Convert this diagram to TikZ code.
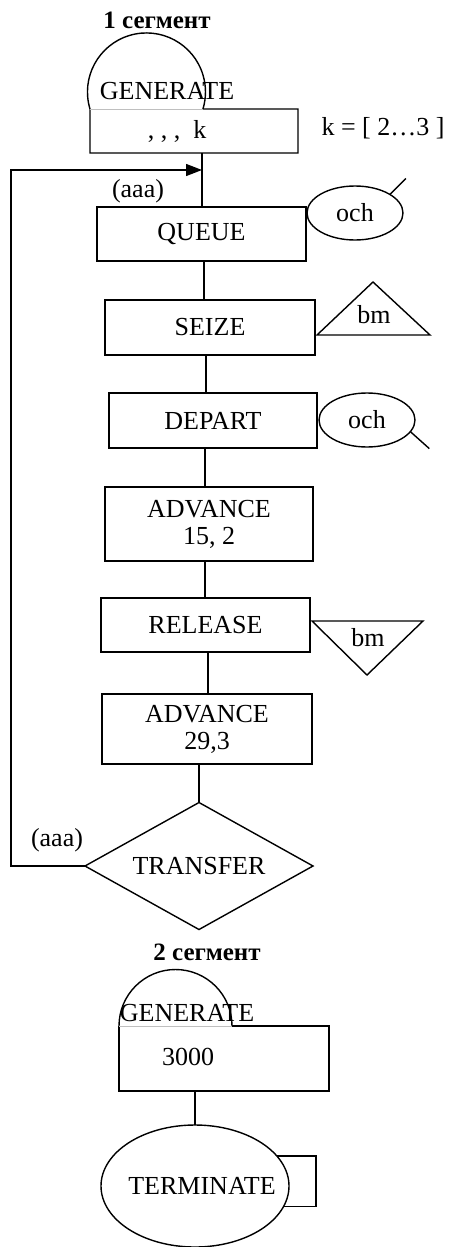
\documentclass[tikz,border=0pt]{standalone}
\usepackage{fontspec}
\setmainfont{Liberation Serif}
\usetikzlibrary{arrows.meta,shapes.geometric}

\begin{document}
\begin{tikzpicture}[x=0.5pt,y=-0.5pt,line width=0.7pt,font=\fontsize{13}{13.5}\selectfont,
	box/.style={draw,rectangle,inner sep=0pt,outer sep=0pt,align=center},
	och/.style={draw,ellipse,minimum width=48pt,minimum height=27pt,inner sep=0pt,outer sep=0pt},
	seg/.style={font=\fontsize{12.5}{14}\selectfont\bfseries}]

	\useasboundingbox (0,0) rectangle (451,1247);

	\node[seg] (seg1) at (157,20) {1 сегмент};

	\node[box,draw=none,minimum width=104pt,minimum height=22pt] (gen1) at (194,131) {};
	\draw (gen1.north west) arc[start angle=163.2,end angle=376.8,radius=59] -- (gen1.north east) -- (gen1.south east) -- (gen1.south west) -- cycle;
	\draw[gray!50,line width=0.3pt] (gen1.north west) -- ++(113,0);
	\node (gen1lbl) at (167,91) {GENERATE};
	\node (gen1arg) at (177,131) {, , ,~~k};
	\node (krange) at (383,128) {k = [ 2…3 ]};

	\coordinate (j1) at (202,170);
	\coordinate (lp) at (11,170);

	\node[box,minimum width=104.5pt,minimum height=27pt] (queue) at (201.5,234) {QUEUE};
	\node (aaa1) at (138,191) {(aaa)};
	\node[och] (och1) at (355,213) {och};
	\draw (och1.28) -- ++(16,-16);

	\node[box,minimum width=105pt,minimum height=27.5pt] (seize) at (210,327.5) {SEIZE};
	\draw (317,335) -- (373,282) -- (430,335) -- cycle;
	\node (bm1) at (374,315) {bm};

	\node[box,minimum width=104pt,minimum height=27.5pt] (depart) at (213,420.5) {DEPART};
	\node[och] (och2) at (367,420) {och};
	\draw (och2.-15) -- ++(19,17);

	\node[box,minimum width=104pt,minimum height=37pt] (adv1) at (209,524) {ADVANCE\\15, 2};

	\node[box,minimum width=104.5pt,minimum height=27pt] (release) at (205.5,625) {RELEASE};
	\draw (312,621) -- (423,621) -- (367,675) -- cycle;
	\node (bm2) at (368,638) {bm};

	\node[box,minimum width=105pt,minimum height=35pt] (adv2) at (207,729) {ADVANCE\\29,3};

	\node[draw,diamond,aspect=1.8,minimum width=114pt,minimum height=63.5pt,inner sep=0pt,outer sep=0pt] (transfer) at (199,866) {TRANSFER};
	\node (aaa2) at (57,840) {(aaa)};

	\draw (gen1.south -| j1) -- (queue.north -| j1);
	\draw ([xshift=1.25pt]queue.south) -- ([xshift=1.25pt]queue.south |- seize.north);
	\draw ([xshift=-2pt]seize.south) -- ([xshift=-2pt]seize.south |- depart.north);
	\draw ([xshift=-4pt]depart.south) -- ([xshift=-4pt]depart.south |- adv1.north);
	\draw ([xshift=-2pt]adv1.south) -- ([xshift=-2pt]adv1.south |- release.north);
	\draw ([xshift=1.25pt]release.south) -- ([xshift=1.25pt]release.south |- adv2.north);
	\draw (transfer.north |- adv2.south) -- (transfer.north);
	\draw[-{Triangle[length=8pt,width=6pt]}] (transfer.west) -| (lp) -- (j1);

	\node[seg] (seg2) at (207,952) {2 сегмент};

	\node[box,draw=none,minimum width=105pt,minimum height=32.5pt] (gen2) at (224,1058.5) {};
	\draw[line width=1.1pt] ([xshift=56.5pt]gen2.north west) -- (gen2.north east) -- (gen2.south east) -- (gen2.south west) -- (gen2.north west);
	\draw (gen2.north west) arc[start angle=180,end angle=360,radius=56.5];
	\draw[gray!50,line width=0.3pt] (gen2.north west) -- ++(113,0);
	\node (gen2lbl) at (187,1013) {GENERATE};
	\node (gen2arg) at (188,1057) {3000};

	\node[draw,ellipse,minimum width=94pt,minimum height=61pt,inner sep=0pt,outer sep=0pt,label={[xshift=3.5pt]center:TERMINATE}] (term) at (195,1186) {};
	\coordinate (rt) at (316,1180);
	\draw (term.north |- gen2.south) -- (term.north);
	\draw (term.20) -| (rt) |- (term.-13);

\end{tikzpicture}
\end{document}
